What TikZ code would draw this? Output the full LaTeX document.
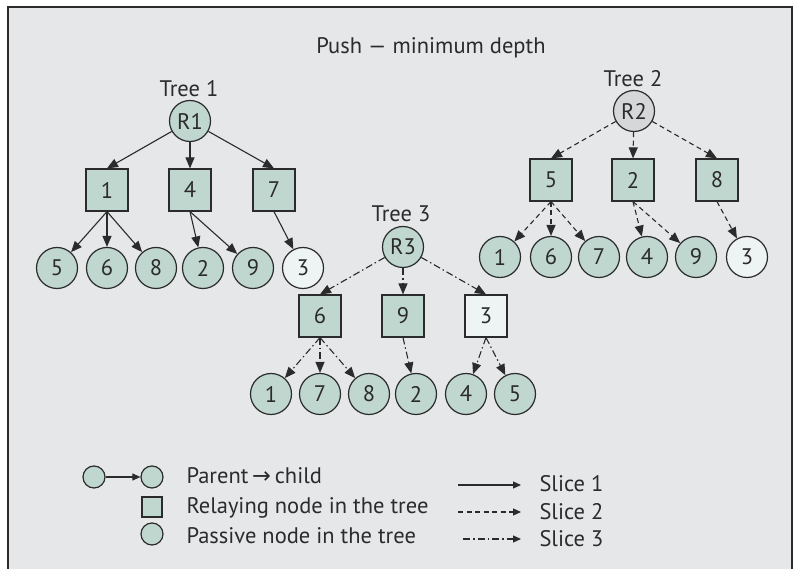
\documentclass[tikz,border=0pt]{standalone}
\usepackage{fontspec}
\setmainfont{PT Sans}
\newfontfamily\arrowfont{DejaVu Sans}
\usetikzlibrary{arrows.meta}
\definecolor{nodeteal}{HTML}{C0D7D0}
\definecolor{nodepale}{HTML}{EEF3F3}
\definecolor{rootgray}{HTML}{D6D7D9}
\definecolor{panelgray}{HTML}{E6E7E9}
\definecolor{inkgray}{HTML}{2B2B2B}

\begin{document}
\begin{tikzpicture}[x=1pt,y=-1pt,
  every node/.style={font=\fontsize{22.5}{26}\selectfont, text=inkgray},
  passive/.style={circle, draw=inkgray, line width=1.2pt, fill=nodeteal, minimum size=41pt, inner sep=0pt},
  relay/.style={rectangle, draw=inkgray, line width=1.2pt, fill=nodeteal, minimum size=42pt, inner sep=0pt},
  pale/.style={fill=nodepale},
  rootgrey/.style={fill=rootgray},
  slicea/.style={-{Triangle[length=11pt,width=9pt]}, line width=1.1pt, draw=inkgray},
  sliceb/.style={slicea, dash pattern=on 5pt off 3.5pt},
  slicec/.style={slicea, dash pattern=on 7pt off 3pt on 1.5pt off 3pt},
]
\useasboundingbox (0,0) rectangle (796,569);
\clip (0,0) rectangle (796,569);

% Panel
\fill[panelgray] (8,7) rectangle (792,600);
\draw[inkgray, line width=1.4pt] (8,600) -- (8,7) -- (792,7) -- (792,600);

\node[anchor=base] (title) at (431,54) {Push — minimum depth};

% Tree 1
\node[anchor=base] (t1name) at (189,97) {Tree 1};
\node[passive] (r1) at (190,121) {R1};
\node[relay] (t1s1) at (107,190) {1};
\node[relay] (t1s4) at (190,190) {4};
\node[relay] (t1s7) at (274,190) {7};
\foreach \x/\n in {57/5,107/6,156/8,203/2,253/9}
  \node[passive] (t1l\n) at (\x,268) {\n};
\node[passive,pale] (t1l3) at (303,268) {3};

\foreach \s in {1,4,7}
  \draw[slicea] (r1) -- (t1s\s.north);
\foreach \l in {5,6,8}
  \draw[slicea] (t1s1.south) -- (t1l\l);
\foreach \l in {2,9}
  \draw[slicea] (t1s4.south) -- (t1l\l);
\draw[slicea] (t1s7.south) -- (t1l3);

% Tree 2
\node[anchor=base] (t2name) at (633,87) {Tree 2};
\node[passive,rootgrey] (r2) at (634,111) {R2};
\node[relay] (t2s5) at (551,180) {5};
\node[relay] (t2s2) at (633,180) {2};
\node[relay] (t2s8) at (717,180) {8};
\foreach \x/\n in {500/1,551/6,599/7,647/4,696/9}
  \node[passive] (t2l\n) at (\x,257) {\n};
\node[passive,pale] (t2l3) at (747,257) {3};

\foreach \s in {5,2,8}
  \draw[sliceb] (r2) -- (t2s\s.north);
\foreach \l in {1,6,7}
  \draw[sliceb] (t2s5.south) -- (t2l\l);
\foreach \l in {4,9}
  \draw[sliceb] (t2s2.south) -- (t2l\l);
\draw[sliceb] (t2s8.south) -- (t2l3);

% Tree 3
\node[anchor=base] (t3name) at (401,222) {Tree 3};
\node[passive] (r3) at (403,247) {R3};
\node[relay] (t3s6) at (320,316) {6};
\node[relay] (t3s9) at (403,316) {9};
\node[relay,pale] (t3s3) at (486,316) {3};
\foreach \x/\n in {271/1,320/7,369/8,416/2,466/4,515/5}
  \node[passive] (t3l\n) at (\x,394) {\n};

\foreach \s in {6,9,3}
  \draw[slicec] (r3) -- (t3s\s.north);
\foreach \l in {1,7,8}
  \draw[slicec] (t3s6.south) -- (t3l\l);
\draw[slicec] (t3s9.south) -- (t3l2);
\foreach \l in {4,5}
  \draw[slicec] (t3s3.south) -- (t3l\l);

% Legend
\node[passive, minimum size=22pt] (lgpar) at (94,477) {};
\node[passive, minimum size=22pt] (lgchild) at (152,477) {};
\draw[slicea, -{Triangle[length=8pt,width=7pt]}] (lgpar) -- (lgchild);
\node[anchor=base west] (lgtxt1) at (183,484) {Parent\,{\arrowfont →}\,child};
\node[relay, minimum size=20pt] (lgrelay) at (152,507) {};
\node[anchor=base west] (lgtxt2) at (183,513) {Relaying node in the tree};
\node[passive, minimum size=22pt] (lgpass) at (152,534) {};
\node[anchor=base west] (lgtxt3) at (183,543) {Passive node in the tree};

\coordinate (sl1a) at (458,485);
\coordinate (sl1b) at (521,485);
\draw[slicea, -{Triangle[length=8pt,width=7pt]}] (sl1a) -- (sl1b);
\node[anchor=base west] (sl1) at (536,492) {Slice 1};
\coordinate (sl2a) at (458,512);
\coordinate (sl2b) at (521,512);
\draw[sliceb, -{Triangle[length=8pt,width=7pt]}] (sl2a) -- (sl2b);
\node[anchor=base west] (sl2) at (536,519) {Slice 2};
\coordinate (sl3a) at (463,539);
\coordinate (sl3b) at (521,539);
\draw[slicec, -{Triangle[length=8pt,width=7pt]}] (sl3a) -- (sl3b);
\node[anchor=base west] (sl3) at (536,546) {Slice 3};

\end{tikzpicture}
\end{document}
